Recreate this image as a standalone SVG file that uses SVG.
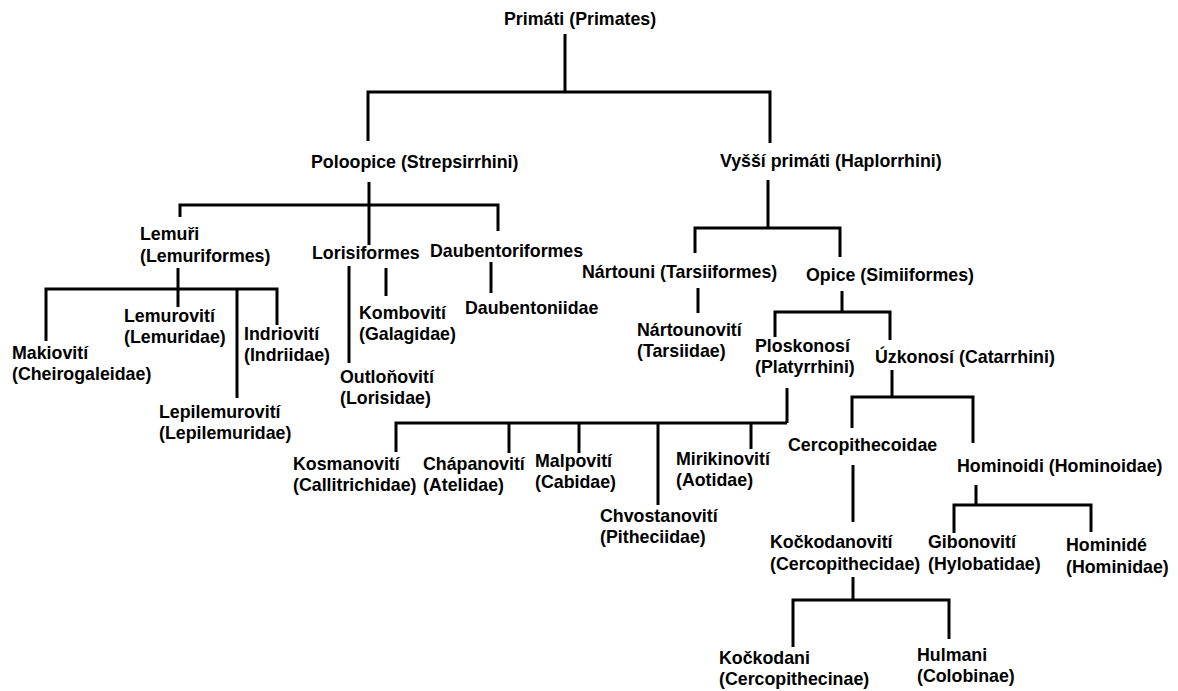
<svg xmlns="http://www.w3.org/2000/svg" width="1178" height="691" viewBox="0 0 1178 691">
<style>
text{font-family:"Liberation Sans",Arial,sans-serif;font-weight:bold;font-size:17.8px;fill:#000}
.c path{fill:none;stroke:#000;stroke-width:3;stroke-linejoin:miter;stroke-linecap:butt}
</style>
<rect width="1178" height="691" fill="#fff"/>
<g class="c" id="connectors">
<path d="M565 34V92"/><path d="M368 141V92H770V143"/>
<path d="M369 182V245"/><path d="M180 217V205H498V231"/>
<path d="M768 180V228"/><path d="M695 253V228H840V257"/>
<path d="M178 268V289"/><path d="M46 341V289H277V325"/><path d="M178 289V307"/><path d="M237 289V398"/>
<path d="M349 266V363"/><path d="M386 268V296"/>
<path d="M491 262V293"/>
<path d="M698 288V313"/>
<path d="M842 291V312"/><path d="M775 337V312H890V340"/>
<path d="M787 388V423"/><path d="M396 452V423H787"/><path d="M509 423V453"/><path d="M579 423V453"/><path d="M658 423V505"/><path d="M751 423V449"/>
<path d="M892 370V397"/><path d="M852 428V397H973V443"/>
<path d="M853 465V522"/>
<path d="M976 485V505"/><path d="M954 533V505H1091V532"/>
<path d="M853 577V600"/><path d="M793 647V600H949V639"/>
</g>
<g id="primates"><text x="504" y="25">Primáti (Primates)</text></g>
<g id="strepsirrhini"><text x="311" y="168">Poloopice (Strepsirrhini)</text></g>
<g id="haplorrhini"><text x="720" y="167">Vyšší primáti (Haplorrhini)</text></g>
<g id="lemuriformes"><text x="140" y="240">Lemuři<tspan x="140" y="262">(Lemuriformes)</tspan></text></g>
<g id="lorisiformes"><text x="312" y="259">Lorisiformes</text></g>
<g id="daubentoriformes"><text x="430" y="257">Daubentoriformes</text></g>
<g id="tarsiiformes"><text x="582" y="278">Nártouni (Tarsiiformes)</text></g>
<g id="simiiformes"><text x="806" y="281">Opice (Simiiformes)</text></g>
<g id="cheirogaleidae"><text x="12" y="359">Makiovití<tspan x="12" y="380">(Cheirogaleidae)</tspan></text></g>
<g id="lemuridae"><text x="124" y="322">Lemurovití<tspan x="124" y="343">(Lemuridae)</tspan></text></g>
<g id="indriidae"><text x="244" y="340">Indriovití<tspan x="244" y="361">(Indriidae)</tspan></text></g>
<g id="lepilemuridae"><text x="159" y="418">Lepilemurovití<tspan x="159" y="439">(Lepilemuridae)</tspan></text></g>
<g id="galagidae"><text x="359" y="319">Kombovití<tspan x="359" y="340">(Galagidae)</tspan></text></g>
<g id="lorisidae"><text x="340" y="383">Outloňovití<tspan x="340" y="404">(Lorisidae)</tspan></text></g>
<g id="daubentoniidae"><text x="465" y="314">Daubentoniidae</text></g>
<g id="tarsiidae"><text x="637" y="336">Nártounovití<tspan x="637" y="357">(Tarsiidae)</tspan></text></g>
<g id="platyrrhini"><text x="755" y="352">Ploskonosí<tspan x="755" y="373">(Platyrrhini)</tspan></text></g>
<g id="catarrhini"><text x="875" y="363">Úzkonosí (Catarrhini)</text></g>
<g id="callitrichidae"><text x="293" y="470">Kosmanovití<tspan x="293" y="491">(Callitrichidae)</tspan></text></g>
<g id="atelidae"><text x="423" y="470">Chápanovití<tspan x="423" y="491">(Atelidae)</tspan></text></g>
<g id="cabidae"><text x="535" y="467">Malpovití<tspan x="535" y="488">(Cabidae)</tspan></text></g>
<g id="pitheciidae"><text x="600" y="522">Chvostanovití<tspan x="600" y="543">(Pitheciidae)</tspan></text></g>
<g id="aotidae"><text x="676" y="465">Mirikinovití<tspan x="676" y="486">(Aotidae)</tspan></text></g>
<g id="cercopithecoidae"><text x="788" y="451">Cercopithecoidae</text></g>
<g id="hominoidae"><text x="957" y="472">Hominoidi (Hominoidae)</text></g>
<g id="cercopithecidae"><text x="770" y="548">Kočkodanovití<tspan x="770" y="570">(Cercopithecidae)</tspan></text></g>
<g id="hylobatidae"><text x="928" y="548">Gibonovití<tspan x="928" y="570">(Hylobatidae)</tspan></text></g>
<g id="hominidae"><text x="1066" y="551">Hominidé<tspan x="1066" y="573">(Hominidae)</tspan></text></g>
<g id="cercopithecinae"><text x="719" y="664">Kočkodani<tspan x="719" y="685">(Cercopithecinae)</tspan></text></g>
<g id="colobinae"><text x="917" y="661">Hulmani<tspan x="917" y="682">(Colobinae)</tspan></text></g>
</svg>
